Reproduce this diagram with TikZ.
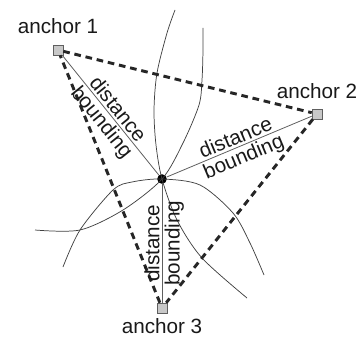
\documentclass[tikz,border=0pt]{standalone}
\usepackage{fontspec}
\setmainfont{Liberation Sans}
\usepackage{tikz}
\usetikzlibrary{positioning}
\definecolor{ancgray}{RGB}{200,200,200}
\definecolor{lngray}{RGB}{95,95,95}

\begin{document}
\begin{tikzpicture}[
  x=0.75pt, y=-0.75pt,
  anc/.style={rectangle, draw=lngray, fill=ancgray, minimum size=7.5pt, inner sep=0pt},
  tgt/.style={circle, fill=black, minimum width=6.5pt, minimum height=7.2pt, inner sep=0pt},
  lbl/.style={inner sep=0pt, text=black!90, font=\fontsize{15.5}{18}\selectfont},
  rng/.style={font=\fontsize{15.5}{18}\selectfont, text=black!90, inner sep=1.6pt, sloped},
  bnd/.style={line width=2.2pt, dash pattern=on 5pt off 3.6pt, black!85},
  seg/.style={lngray, line width=0.6pt},
  arc/.style={black!75, line width=0.55pt}
]
  \useasboundingbox (0,0) rectangle (359,345);

  % anchors and the estimated position
  \node[anc] (a1) at (58,50) {};
  \node[anc] (a2) at (317,114) {};
  \node[anc] (a3) at (162,308) {};
  \node[tgt] (p) at (162,179) {};

  \node[lbl, above=8pt of a1] (t1) {anchor 1};
  \node[lbl, above=7pt of a2] (t2) {anchor 2};
  \node[lbl, below=4pt of a3] (t3) {anchor 3};

  % range circles
  \draw[arc] plot[smooth] coordinates {(175,10) (167,33) (157,73) (154,110) (156,145)
    (p.center) (177,220) (202,258) (247,298)};
  \draw[arc] plot[smooth] coordinates {(35,230) (80,230) (123,210)
    (p.center) (183,143) (199,105) (202,80) (203,50) (203,28)};
  \draw[arc] plot[smooth] coordinates {(63,267) (80,230) (113,190) (132,182)
    (p.center) (200,185) (233,213) (250,243) (264,275)};

  % bounding triangle
  \draw[bnd] (a1) -- (a2);
  \draw[bnd] (a2) -- (a3);
  \draw[bnd] (a3) -- (a1);

  % distances
  \draw[seg] (a1) -- node[rng, above] (d1) {distance} node[rng, below] (b1) {bounding} (p);
  \draw[seg] (p) -- node[rng, above] (d2) {distance} node[rng, below] (b2) {bounding} (a2);
  \draw[seg] (a3) -- node[rng, above] (d3) {distance} node[rng, below] (b3) {bounding} (p);
\end{tikzpicture}
\end{document}
